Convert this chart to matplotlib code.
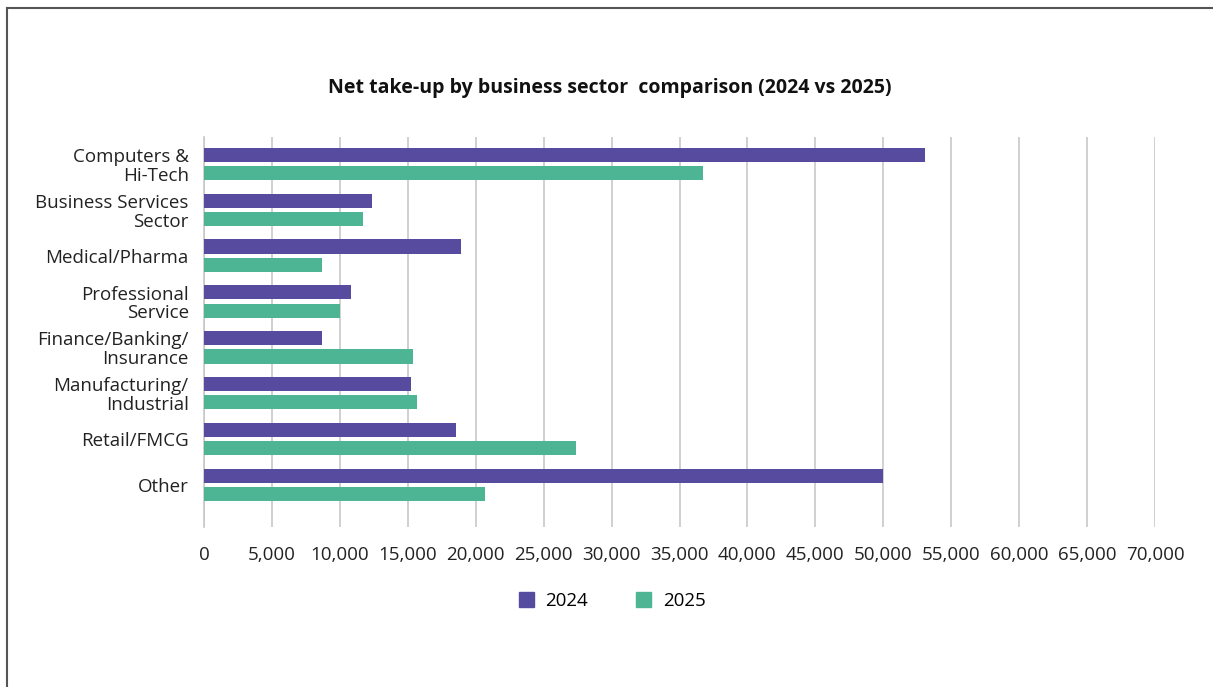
import matplotlib.pyplot as plt
import numpy as np
from matplotlib.patches import Patch
from matplotlib.lines import Line2D

plt.rcParams['font.family'] = ['Open Sans', 'DejaVu Sans']

sectors = ["Computers &\nHi-Tech", "Business Services\nSector", "Medical/Pharma",
           "Professional\nService", "Finance/Banking/\nInsurance",
           "Manufacturing/\nIndustrial", "Retail/FMCG", "Other"]
take_up_2024 = [53100, 12400, 18900, 10800, 8700, 15200, 18550, 49950]
take_up_2025 = [36700, 11700, 8700, 10000, 15400, 15700, 27400, 20650]
x_ticks = np.arange(0, 70001, 5000)

purple = "#574b9f"
green = "#4db593"

fig = plt.figure(figsize=(12.13, 6.87), dpi=100)
ax = fig.add_axes([204/1213, 1 - 527/687, (1155 - 204)/1213, (527 - 137)/687])

y = np.arange(len(sectors))
h = 0.31
ax.barh(y - 0.2, take_up_2024, height=h, color=purple, zorder=3)
ax.barh(y + 0.2, take_up_2025, height=h, color=green, zorder=3)

ax.set_xlim(0, 70000)
ax.set_ylim(7.92, -0.59)
ax.set_xticks(x_ticks)
ax.set_xticklabels([f"{v:,}" for v in x_ticks], fontsize=13.5, color="#222222")
ax.set_yticks(y)
ax.set_yticklabels(sectors, fontsize=13.5, color="#222222", linespacing=1.05)
ax.tick_params(axis="y", length=0, pad=11)
ax.tick_params(axis="x", length=0, pad=14)
ax.grid(axis="x", color="#c8c8c8", linewidth=1.2, zorder=0)
for s in ["top", "right", "bottom"]:
    ax.spines[s].set_visible(False)
ax.spines["left"].set_color("#c8c8c8")
ax.spines["left"].set_linewidth(1.2)

fig.text(610/1213, 1 - 88/687, "Net take-up by business sector  comparison (2024 vs 2025)",
         ha="center", va="center", fontsize=14, fontweight="bold", color="#111111")

handles = [Patch(color=purple, label="2024"), Patch(color=green, label="2025")]
fig.legend(handles=handles, loc="center", bbox_to_anchor=(612/1213, 1 - 601/687),
           ncol=2, frameon=False, fontsize=13.5, handlelength=0.8, handleheight=0.8,
           columnspacing=2.6, handletextpad=0.6)

# outer frame, left and top edges only
fig.add_artist(Line2D([7/1213, 7/1213], [0, 1 - 8/687], color="#555555", linewidth=1.5))
fig.add_artist(Line2D([7/1213, 1], [1 - 8/687, 1 - 8/687], color="#555555", linewidth=1.5))

fig.savefig("out.png", dpi=100)
